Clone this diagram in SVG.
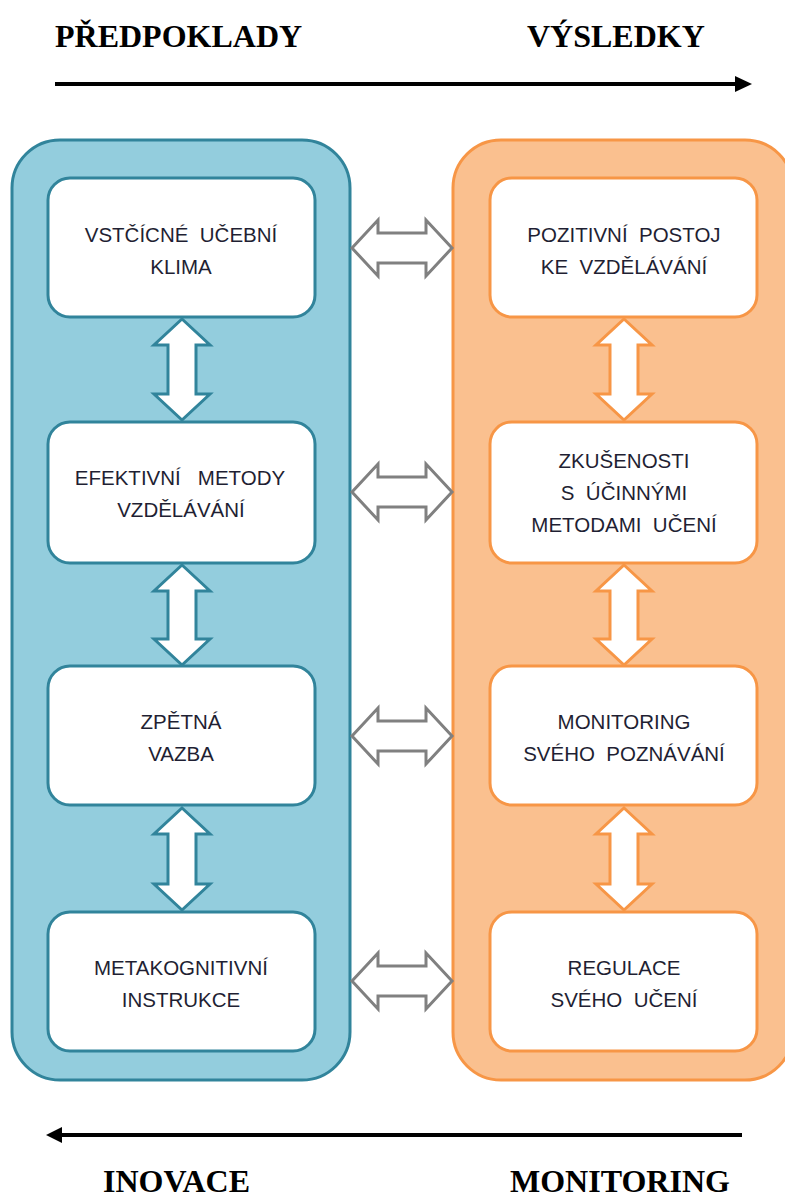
<svg xmlns="http://www.w3.org/2000/svg" width="785" height="1199" viewBox="0 0 785 1199">
<style>
.title{font-family:"Liberation Serif","Times New Roman",serif;font-weight:bold;font-size:32px;fill:#000}
.lbl{font-family:"Liberation Sans",Arial,sans-serif;font-size:20.5px;fill:#1f1f33;text-anchor:middle;white-space:pre}
.contL{fill:#93cddd;stroke:#31849b;stroke-width:3}
.contR{fill:#fac08f;stroke:#f79646;stroke-width:3}
.boxL{fill:#fff;stroke:#31849b;stroke-width:3}
.boxR{fill:#fff;stroke:#f79646;stroke-width:3}
.varrL{fill:#fff;stroke:#31849b;stroke-width:3;stroke-linejoin:miter}
.varrR{fill:#fff;stroke:#f79646;stroke-width:3;stroke-linejoin:miter}
.harr{fill:#fff;stroke:#808080;stroke-width:3;stroke-linejoin:miter}
.axis{stroke:#000;stroke-width:4;fill:none}
</style>
<defs>
<path id="hArrow" d="M0,0 L26,-28 L26,-15 L74,-15 L74,-28 L100,0 L74,28 L74,15 L26,15 L26,28 Z"/>
</defs>

<g id="titles">
<text class="title" x="55" y="47">PŘEDPOKLADY</text>
<text class="title" x="527" y="47">VÝSLEDKY</text>
<text class="title" x="103" y="1192">INOVACE</text>
<text class="title" x="510" y="1192">MONITORING</text>
</g>

<g id="axes">
<line class="axis" x1="55" y1="84" x2="737" y2="84"/>
<polygon points="735,76 752,84 735,92" fill="#000"/>
<line class="axis" x1="60" y1="1135" x2="742" y2="1135"/>
<polygon points="62,1127 46,1135 62,1143" fill="#000"/>
</g>

<g id="container-left">
<rect class="contL" x="12" y="140" width="338" height="940" rx="48" ry="48"/>
</g>
<g id="container-right">
<rect class="contR" x="453" y="140" width="340" height="940" rx="48" ry="48"/>
</g>

<g id="connectors">
<use href="#hArrow" class="harr" transform="translate(352,248)"/>
<use href="#hArrow" class="harr" transform="translate(352,492)"/>
<use href="#hArrow" class="harr" transform="translate(352,736)"/>
<use href="#hArrow" class="harr" transform="translate(352,981)"/>
<path class="varrL" d="M182,319 L210,345 L196,345 L196,394 L210,394 L182,420 L154,394 L168,394 L168,345 L154,345 Z"/>
<path class="varrL" d="M182,565 L210,591 L196,591 L196,639 L210,639 L182,665 L154,639 L168,639 L168,591 L154,591 Z"/>
<path class="varrL" d="M182,808 L210,834 L196,834 L196,884 L210,884 L182,910 L154,884 L168,884 L168,834 L154,834 Z"/>
<path class="varrR" d="M624,319 L652,345 L638,345 L638,394 L652,394 L624,420 L596,394 L610,394 L610,345 L596,345 Z"/>
<path class="varrR" d="M624,565 L652,591 L638,591 L638,639 L652,639 L624,665 L596,639 L610,639 L610,591 L596,591 Z"/>
<path class="varrR" d="M624,808 L652,834 L638,834 L638,884 L652,884 L624,910 L596,884 L610,884 L610,834 L596,834 Z"/>
</g>

<g id="node-vstricne">
<rect class="boxL" x="48" y="178" width="267" height="139" rx="22" ry="22"/>
<text class="lbl" x="181" y="242">VSTČÍCNÉ  UČEBNÍ</text>
<text class="lbl" x="181" y="274">KLIMA</text>
</g>
<g id="node-efektivni">
<rect class="boxL" x="48" y="422" width="267" height="141" rx="22" ry="22"/>
<text class="lbl" x="180" y="485">EFEKTIVNÍ   METODY</text>
<text class="lbl" x="181" y="517">VZDĚLÁVÁNÍ</text>
</g>
<g id="node-zpetna">
<rect class="boxL" x="48" y="666" width="267" height="139" rx="22" ry="22"/>
<text class="lbl" x="181" y="729">ZPĚTNÁ</text>
<text class="lbl" x="181" y="761">VAZBA</text>
</g>
<g id="node-metakognitivni">
<rect class="boxL" x="48" y="912" width="267" height="139" rx="22" ry="22"/>
<text class="lbl" x="181" y="975">METAKOGNITIVNÍ</text>
<text class="lbl" x="181" y="1007">INSTRUKCE</text>
</g>

<g id="node-pozitivni">
<rect class="boxR" x="490" y="178" width="267" height="139" rx="22" ry="22"/>
<text class="lbl" x="624" y="242">POZITIVNÍ  POSTOJ</text>
<text class="lbl" x="624" y="274">KE  VZDĚLÁVÁNÍ</text>
</g>
<g id="node-zkusenosti">
<rect class="boxR" x="490" y="422" width="267" height="141" rx="22" ry="22"/>
<text class="lbl" x="624" y="468">ZKUŠENOSTI</text>
<text class="lbl" x="624" y="500">S  ÚČINNÝMI</text>
<text class="lbl" x="624" y="532">METODAMI  UČENÍ</text>
</g>
<g id="node-monitoring">
<rect class="boxR" x="490" y="666" width="267" height="139" rx="22" ry="22"/>
<text class="lbl" x="624" y="729">MONITORING</text>
<text class="lbl" x="624" y="761">SVÉHO  POZNÁVÁNÍ</text>
</g>
<g id="node-regulace">
<rect class="boxR" x="490" y="912" width="267" height="139" rx="22" ry="22"/>
<text class="lbl" x="624" y="975">REGULACE</text>
<text class="lbl" x="624" y="1007">SVÉHO  UČENÍ</text>
</g>
</svg>
